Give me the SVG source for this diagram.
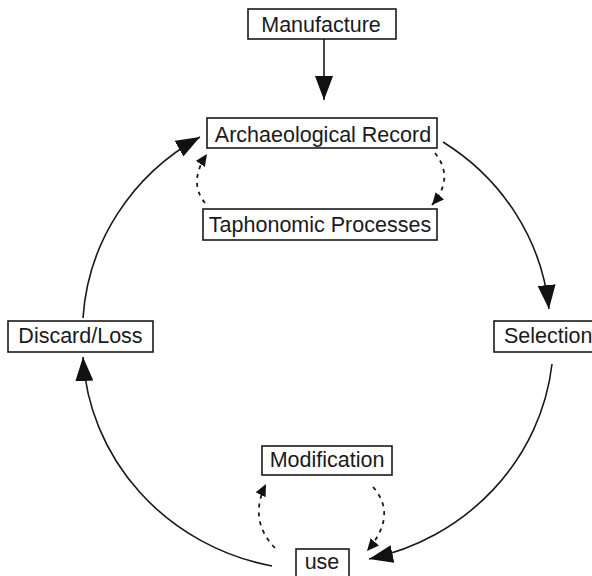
<svg xmlns="http://www.w3.org/2000/svg" width="592" height="576" viewBox="0 0 592 576">
<style>
.box{fill:#fff;stroke:#1a1a1a;stroke-width:1.6}
.lbl{font-family:"Liberation Sans",Arial,sans-serif;font-size:21.5px;fill:#1a1a1a;text-anchor:middle}
.arc{fill:none;stroke:#1a1a1a;stroke-width:1.6}
.dash{fill:none;stroke:#1a1a1a;stroke-width:1.8;stroke-dasharray:4 5}
</style>
<defs>
<marker id="big" markerUnits="userSpaceOnUse" markerWidth="26" markerHeight="20" refX="24" refY="9" orient="auto">
<path d="M0,0 L24,9 L0,18 Z" fill="#111"/>
</marker>
<marker id="small" markerUnits="userSpaceOnUse" markerWidth="14" markerHeight="12" refX="12" refY="5.5" orient="auto">
<path d="M0,0 L12,5.5 L0,11 Z" fill="#111"/>
</marker>
</defs>
<g id="connectors">
<path class="arc" d="M324,39 L324,100" marker-end="url(#big)"/>
<path class="arc" d="M443,142 A235 225 0 0 1 549,309" marker-end="url(#big)"/>
<path class="arc" d="M552,364 A235 225 0 0 1 369,559" marker-end="url(#big)"/>
<path class="arc" d="M272,566 A235 225 0 0 1 83,357" marker-end="url(#big)"/>
<path class="arc" d="M83,318 A235 225 0 0 1 200,137" marker-end="url(#big)"/>
<path class="dash" d="M205,203 Q188,182 207,154" marker-end="url(#small)"/>
<path class="dash" d="M435,153 Q455,178 432,205" marker-end="url(#small)"/>
<path class="dash" d="M275,548 Q248,520 266,484" marker-end="url(#small)"/>
<path class="dash" d="M373,487 Q398,515 367,551" marker-end="url(#small)"/>
</g>
<g id="manufacture"><rect class="box" x="248" y="9" width="148" height="30"/><text class="lbl" x="321" y="32">Manufacture</text></g>
<g id="record"><rect class="box" x="207" y="118" width="230" height="30"/><text class="lbl" x="323" y="142">Archaeological Record</text></g>
<g id="taphonomic"><rect class="box" x="203" y="209" width="234" height="31"/><text class="lbl" x="320" y="232">Taphonomic Processes</text></g>
<g id="discard"><rect class="box" x="8" y="321" width="145" height="31"/><text class="lbl" x="80.5" y="343">Discard/Loss</text></g>
<g id="selection"><rect class="box" x="494" y="321" width="100" height="31"/><text class="lbl" x="504" y="343" style="text-anchor:start">Selection</text></g>
<g id="modification"><rect class="box" x="262" y="446" width="130" height="29"/><text class="lbl" x="327" y="467">Modification</text></g>
<g id="use"><rect class="box" x="296" y="549" width="53" height="30"/><text class="lbl" x="322" y="569">use</text></g>
</svg>
